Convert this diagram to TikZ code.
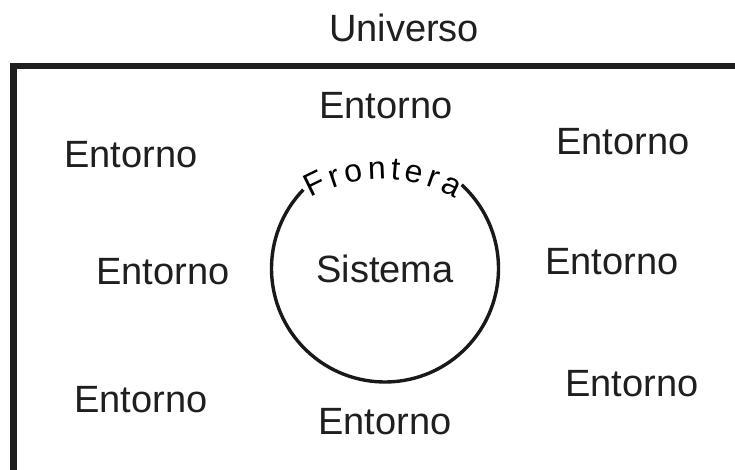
\documentclass[tikz,border=0pt]{standalone}
\usepackage{fontspec}
\setmainfont{Liberation Sans}
\usetikzlibrary{decorations.text}
\newcommand\frfont{\fontsize{32}{34}\selectfont}
\tikzset{
  lbl/.style={anchor=base, inner sep=0pt, font=\fontsize{38}{40}\selectfont, text=black!88},
  frame/.style={line width=6.5pt, line join=miter, black!88},
  bound/.style={line width=3.4pt, black!90}
}
\begin{document}
\begin{tikzpicture}[x=1pt,y=1pt]
\useasboundingbox (0,0) rectangle (735,470);
\fill[white] (0,0) rectangle (735,470);
% universe frame (open at bottom and right)
\coordinate (fb) at (13.5,0);
\coordinate (fc) at (13.5,404);
\coordinate (fr) at (735,404);
\draw[frame] (fb) -- (fc) -- (fr);
% system boundary
\coordinate (cc) at (385,201.5);
\draw[bound] (cc) ++(136:113.5) arc[start angle=136, end angle=407.5, radius=113.5];
% Frontera along the top
\coordinate (tc) at (383,147);
\path[font=\frfont, text=black!85, decorate, decoration={text along path, text={|\frfont|Frontera}, text align={fit to path}}]
  (tc) ++(120:144) arc[start angle=120, end angle=60, radius=144];
% labels
\node[lbl] (univ) at (404,428) {Universo};
\node[lbl] (sis) at (385,187) {Sistema};
\node[lbl] (e1) at (386,351.5) {Entorno};
\node[lbl] (e2) at (131,302) {Entorno};
\node[lbl] (e3) at (623,315) {Entorno};
\node[lbl] (e4) at (163,185) {Entorno};
\node[lbl] (e5) at (612,195) {Entorno};
\node[lbl] (e6) at (141,57) {Entorno};
\node[lbl] (e7) at (385,35) {Entorno};
\node[lbl] (e8) at (632,73) {Entorno};
\end{tikzpicture}
\end{document}
